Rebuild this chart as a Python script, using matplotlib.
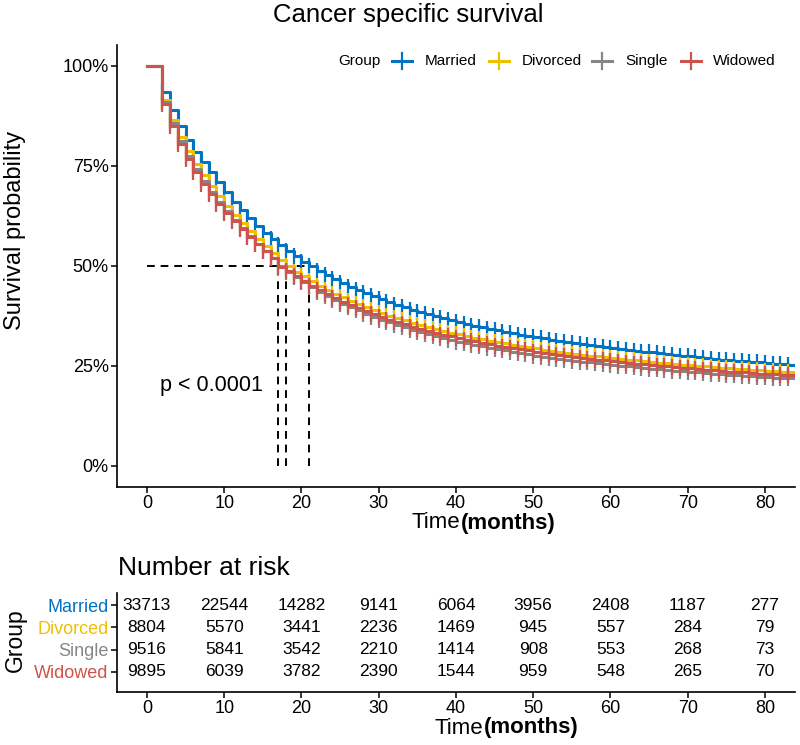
import matplotlib
matplotlib.use("Agg")
import matplotlib.pyplot as plt
from matplotlib.lines import Line2D

plt.rcParams['font.family'] = ['Liberation Sans', 'DejaVu Sans']

groups = ['Married', 'Divorced', 'Single', 'Widowed']
colors = ['#0073C2', '#EFC000', '#868686', '#CD534C']

# monthly survival estimates (t = 0, 1, 2, ... 83)
married = [1, 1, 0.936, 0.89, 0.85, 0.815, 0.785, 0.76, 0.735, 0.71, 0.685, 0.66, 0.64, 0.62, 0.60,
           0.583, 0.567, 0.552, 0.538, 0.524, 0.511, 0.499, 0.488, 0.477, 0.467, 0.457, 0.448, 0.44,
           0.432, 0.424, 0.417, 0.41, 0.403, 0.397, 0.391, 0.385, 0.379, 0.374, 0.369, 0.364, 0.359,
           0.355, 0.351, 0.347, 0.343, 0.339, 0.335, 0.332, 0.328, 0.325, 0.322, 0.319, 0.316, 0.313,
           0.31, 0.307, 0.305, 0.302, 0.3, 0.297, 0.295, 0.293, 0.29, 0.288, 0.286, 0.284, 0.282, 0.28,
           0.278, 0.276, 0.274, 0.272, 0.27, 0.268, 0.266, 0.265, 0.263, 0.262, 0.26, 0.259, 0.257,
           0.256, 0.254, 0.253]
divorced = [1, 1, 0.915, 0.865, 0.823, 0.787, 0.755, 0.727, 0.70, 0.675, 0.651, 0.628, 0.607, 0.587,
            0.568, 0.55, 0.533, 0.516, 0.499, 0.486, 0.474, 0.462, 0.451, 0.441, 0.431, 0.422, 0.413,
            0.405, 0.397, 0.39, 0.383, 0.376, 0.37, 0.364, 0.358, 0.352, 0.347, 0.342, 0.337, 0.333,
            0.329, 0.325, 0.321, 0.317, 0.313, 0.31, 0.307, 0.303, 0.3, 0.297, 0.294, 0.291, 0.288,
            0.286, 0.283, 0.281, 0.278, 0.276, 0.274, 0.272, 0.27, 0.268, 0.266, 0.264, 0.262, 0.26,
            0.258, 0.257, 0.255, 0.253, 0.252, 0.25, 0.249, 0.247, 0.246, 0.244, 0.243, 0.242, 0.24,
            0.239, 0.238, 0.237, 0.236, 0.235]
single = [1, 1, 0.91, 0.857, 0.813, 0.775, 0.742, 0.713, 0.686, 0.661, 0.637, 0.615, 0.594, 0.574,
          0.555, 0.537, 0.52, 0.499, 0.486, 0.472, 0.459, 0.447, 0.436, 0.425, 0.415, 0.406, 0.397,
          0.389, 0.381, 0.373, 0.366, 0.359, 0.353, 0.347, 0.341, 0.335, 0.33, 0.325, 0.32, 0.316,
          0.311, 0.307, 0.303, 0.299, 0.295, 0.292, 0.289, 0.285, 0.282, 0.279, 0.276, 0.273, 0.271,
          0.268, 0.266, 0.263, 0.261, 0.259, 0.257, 0.255, 0.253, 0.251, 0.249, 0.247, 0.245, 0.243,
          0.242, 0.24, 0.238, 0.237, 0.235, 0.234, 0.232, 0.231, 0.229, 0.228, 0.227, 0.226, 0.224,
          0.223, 0.222, 0.221, 0.22, 0.219]
widowed = [1, 1, 0.905, 0.85, 0.806, 0.768, 0.735, 0.706, 0.68, 0.656, 0.633, 0.612, 0.592, 0.573,
           0.555, 0.538, 0.521, 0.497, 0.487, 0.474, 0.462, 0.45, 0.44, 0.43, 0.42, 0.411, 0.403,
           0.395, 0.387, 0.38, 0.373, 0.366, 0.36, 0.354, 0.348, 0.343, 0.338, 0.333, 0.328, 0.324,
           0.32, 0.316, 0.312, 0.308, 0.304, 0.301, 0.298, 0.295, 0.292, 0.289, 0.286, 0.283, 0.28,
           0.278, 0.275, 0.273, 0.27, 0.268, 0.266, 0.264, 0.262, 0.26, 0.258, 0.256, 0.254, 0.252,
           0.25, 0.249, 0.247, 0.245, 0.244, 0.242, 0.241, 0.239, 0.238, 0.236, 0.235, 0.234, 0.232,
           0.231, 0.23, 0.229, 0.228, 0.227]
curves = [married, divorced, single, widowed]

risk_times = [0, 10, 20, 30, 40, 50, 60, 70, 80]
at_risk = {
    'Married': [33713, 22544, 14282, 9141, 6064, 3956, 2408, 1187, 277],
    'Divorced': [8804, 5570, 3441, 2236, 1469, 945, 557, 284, 79],
    'Single': [9516, 5841, 3542, 2210, 1414, 908, 553, 268, 73],
    'Widowed': [9895, 6039, 3782, 2390, 1544, 959, 548, 265, 70],
}

W, H = 800, 745


def fx(x):
    return x / W


def fy(y):
    return 1 - y / H


def time_label(fig, x_left, y):
    # "Time" in plain weight followed by a bold "(months)"
    t1 = fig.text(fx(x_left), fy(y), 'Time', fontsize=16, ha='left', va='center')
    fig.canvas.draw()
    bb = t1.get_window_extent()
    fig.text(bb.x1 / W, fy(y), '(months)', fontsize=16, fontweight='bold', ha='left', va='center')


fig = plt.figure(figsize=(8, 7.45), dpi=100)
ax = fig.add_axes([fx(117), fy(487), (795 - 117) / W, (487 - 45) / H])
tab = fig.add_axes([fx(117), fy(692), (795 - 117) / W, (692 - 593) / H])

XMIN, XMAX = -3.88, 83.9

# survival curves
medians = []
for name, surv, col in zip(groups, curves, colors):
    t = list(range(len(surv)))
    ax.step(t + [XMAX], surv + [surv[-1]], where='post', color=col, lw=2.2, zorder=3)
    ax.plot(t[2:], surv[2:], ls='none', marker='|', markersize=12, markeredgewidth=1.6,
            color=col, zorder=3)
    medians.append(next(i for i, s in enumerate(surv) if s <= 0.5))

# median lines
ax.plot([0, max(medians)], [0.5, 0.5], ls=(0, (4, 3)), color='black', lw=1.4, zorder=2)
for m in sorted(set(medians)):
    ax.plot([m, m], [0, 0.5], ls=(0, (4, 3)), color='black', lw=1.4, zorder=2)

ax.set_xlim(XMIN, XMAX)
ax.set_ylim(-0.0525, 1.0525)
ax.set_xticks(risk_times)
ax.set_yticks([0, 0.25, 0.5, 0.75, 1.0])
ax.set_yticklabels(['0%', '25%', '50%', '75%', '100%'])
for a in (ax, tab):
    for s in ('top', 'right'):
        a.spines[s].set_visible(False)
    for s in ('left', 'bottom'):
        a.spines[s].set_linewidth(1.2)
    a.tick_params(length=4, width=1.1, labelsize=13, colors='black', pad=2)

ax.text(1.7, 0.2025, 'p < 0.0001', fontsize=15.5, va='center', ha='left')

fig.text(fx(408), fy(15), 'Cancer specific survival', fontsize=18.5, ha='center', va='center')
fig.text(fx(15), fy(230), 'Survival probability', fontsize=17, rotation=90, ha='center', va='center')

# legend
fig.text(fx(338), fy(61), 'Group', fontsize=11, ha='left', va='center')
leg_marks = [402, 499, 602, 691]
leg_texts = [425, 522, 625, 713]
for name, col, mx, tx in zip(groups, colors, leg_marks, leg_texts):
    fig.add_artist(Line2D([fx(mx - 10), fx(mx + 10)], [fy(61), fy(61)], color=col, lw=2.2))
    fig.add_artist(Line2D([fx(mx), fx(mx)], [fy(53), fy(69)], color=col, lw=1.6))
    fig.text(fx(tx), fy(61), name, fontsize=11, ha='left', va='center')

# risk table
for i, name in enumerate(groups):
    for t, n in zip(risk_times, at_risk[name]):
        tab.text(t, i, str(n), fontsize=12.5, ha='center', va='center')
tab.set_xlim(XMIN, XMAX)
tab.set_ylim(3.9, -0.54)
tab.set_xticks(risk_times)
tab.set_yticks(range(len(groups)))
tab.set_yticklabels(groups)
tab.tick_params(axis='y', labelsize=13)
for lbl, col in zip(tab.get_yticklabels(), colors):
    lbl.set_color(col)

fig.text(fx(118), fy(568), 'Number at risk', fontsize=19, ha='left', va='center')
fig.text(fx(15), fy(640), 'Group', fontsize=16.5, rotation=90, ha='center', va='center')

time_label(fig, 412, 523)
time_label(fig, 435, 728)

fig.savefig('out.png', dpi=100)
